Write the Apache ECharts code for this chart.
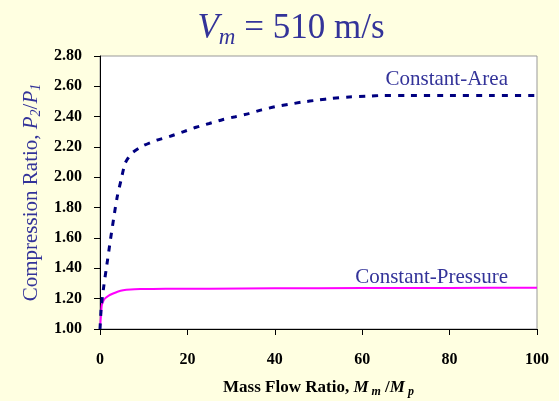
<!DOCTYPE html>
<html>
<head>
<meta charset="utf-8">
<script src="https://cdn.jsdelivr.net/npm/echarts@6/dist/echarts.min.js"></script>
<style>
html,body{margin:0;padding:0;background:#FFFFE1;}
#c{width:559px;height:401px;}
</style>
</head>
<body>
<div id="c"></div>
<script>
const xTicks = [0, 20, 40, 60, 80, 100];
const yTicks = [1.0, 1.2, 1.4, 1.6, 1.8, 2.0, 2.2, 2.4, 2.6, 2.8];

const areaX = [0, 0.3, 0.9, 1.4, 2.4, 3.4, 4.0, 4.8, 5.7, 6.5, 7.5, 10, 13, 16, 19, 22, 25, 28, 31, 34, 37, 40, 43, 46, 50, 53, 57, 61, 65, 70, 80, 90, 100];
const areaY = [1.00, 1.15, 1.29, 1.39, 1.59, 1.78, 1.88, 1.98, 2.09, 2.13, 2.165, 2.21, 2.245, 2.27, 2.30, 2.33, 2.355, 2.38, 2.40, 2.42, 2.445, 2.465, 2.48, 2.495, 2.51, 2.52, 2.53, 2.535, 2.54, 2.54, 2.54, 2.54, 2.54];

const presX = [0, 0.2, 0.4, 0.7, 1.1, 2, 3, 4, 5.3, 7, 9.2, 15, 25, 40, 60, 80, 100];
const presY = [1.00, 1.08, 1.155, 1.18, 1.20, 1.22, 1.234, 1.246, 1.256, 1.261, 1.263, 1.265, 1.266, 1.268, 1.27, 1.271, 1.272];

const seriesNames = ['Constant-Area', 'Constant-Pressure'];

const serif = '"Liberation Serif", "Times New Roman", serif';
const blue = '#333399';

const chart = echarts.init(document.getElementById('c'), null, {renderer: 'canvas'});
chart.setOption({
  backgroundColor: '#FFFFE1',
  animation: false,
  title: {
    text: '{v|V}{s|m}{t| = 510 m/s}',
    left: 286,
    top: 4,
    textAlign: 'center',
    textStyle: {
      fontWeight: 'normal',
      rich: {
        v: {fontFamily: serif, fontSize: 35, fontWeight: 'normal', fontStyle: 'italic', color: blue, lineHeight: 40},
        s: {fontFamily: serif, fontSize: 23, fontWeight: 'normal', fontStyle: 'italic', color: blue, lineHeight: 24, verticalAlign: 'bottom'},
        t: {fontFamily: serif, fontSize: 35, fontWeight: 'normal', color: blue, lineHeight: 40}
      }
    }
  },
  grid: {
    left: 100, right: 22, top: 56, bottom: 72,
    outerBoundsMode: 'none', containLabel: false,
    show: true, backgroundColor: '#ffffff', borderColor: '#999999', borderWidth: 1
  },
  xAxis: {
    type: 'value', min: xTicks[0], max: xTicks[xTicks.length - 1], interval: 20,
    axisLine: {lineStyle: {color: '#000', width: 1}},
    axisTick: {length: 6, lineStyle: {color: '#000'}},
    splitLine: {show: false},
    axisLabel: {fontFamily: serif, fontWeight: 'bold', fontSize: 16, color: '#000', margin: 23},
    name: '{b|Mass Flow Ratio, }{i|M}{s| m}{b| /}{i|M}{s| p}',
    nameLocation: 'middle',
    nameGap: 49,
    nameTextStyle: {
      rich: {
        b: {fontFamily: serif, fontWeight: 'bold', fontSize: 17, color: '#000', lineHeight: 20},
        i: {fontFamily: serif, fontWeight: 'bold', fontStyle: 'italic', fontSize: 17, color: '#000', lineHeight: 20},
        s: {fontFamily: serif, fontWeight: 'bold', fontStyle: 'italic', fontSize: 12, color: '#000', lineHeight: 13, verticalAlign: 'bottom'}
      }
    }
  },
  yAxis: {
    type: 'value', min: yTicks[0], max: yTicks[yTicks.length - 1], interval: 0.2,
    axisLine: {show: true, lineStyle: {color: '#000', width: 1}},
    axisTick: {show: true, length: 6, lineStyle: {color: '#000'}},
    splitLine: {show: false},
    axisLabel: {fontFamily: serif, fontWeight: 'bold', fontSize: 16, color: '#000', margin: 18,
      formatter: v => v.toFixed(2)},
    name: '{t|Compression Ratio, }{i|P}{s|2}{t|/}{i|P}{s|1}',
    nameLocation: 'middle',
    nameRotate: 90,
    nameGap: 57,
    nameTextStyle: {
      rich: {
        t: {fontFamily: serif, fontSize: 21, color: blue, lineHeight: 24},
        i: {fontFamily: serif, fontSize: 21, fontStyle: 'italic', color: blue, lineHeight: 24},
        s: {fontFamily: serif, fontSize: 14, fontStyle: 'italic', color: blue, lineHeight: 14, verticalAlign: 'bottom'}
      }
    }
  },
  series: [
    {
      name: seriesNames[0], type: 'line', showSymbol: false, smooth: 0.2,
      data: areaX.map((x, i) => [x, areaY[i]]),
      lineStyle: {color: '#000080', width: 3, type: [6, 7], cap: 'butt'},
      z: 3
    },
    {
      name: seriesNames[1], type: 'line', showSymbol: false, smooth: 0.2,
      data: presX.map((x, i) => [x, presY[i]]),
      lineStyle: {color: '#FF00FF', width: 2},
      z: 2
    }
  ],
  graphic: [
    {type: 'text', right: 51, top: 69, style: {text: seriesNames[0], font: '21px ' + serif, fill: blue}},
    {type: 'text', right: 51, top: 267, style: {text: seriesNames[1], font: '21px ' + serif, fill: blue}}
  ]
});
</script>
</body>
</html>
